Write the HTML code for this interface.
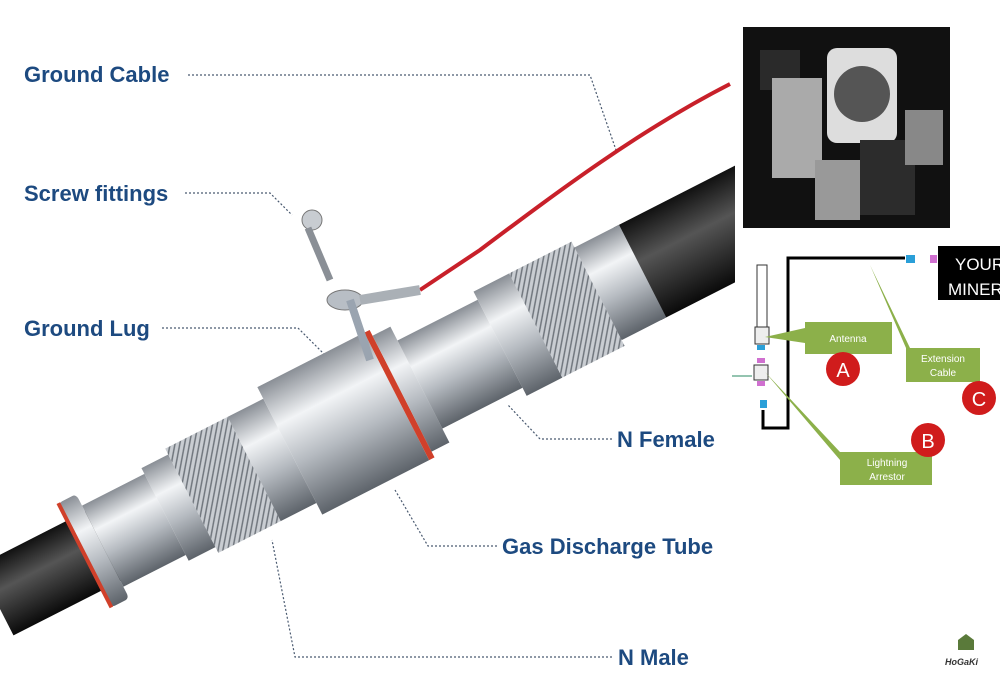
<!DOCTYPE html>
<html><head><meta charset="utf-8"><style>
html,body{margin:0;padding:0;background:#fff}
svg{display:block}
text{font-family:"Liberation Sans",sans-serif}
.lb{fill:#1d4a80;font-weight:bold;font-size:22px}
.dl{stroke:#4a5a70;stroke-width:1.2;stroke-dasharray:2 2;fill:none}
.gt{fill:#fff;font-size:10px;text-anchor:middle}
</style></head><body>
<svg width="1000" height="689" viewBox="0 0 1000 689">
<defs>
<linearGradient id="met" x1="0" y1="0" x2="0" y2="1">
<stop offset="0" stop-color="#8a8f96"/><stop offset="0.3" stop-color="#f2f4f6"/><stop offset="0.6" stop-color="#b5bac0"/><stop offset="1" stop-color="#5d636a"/></linearGradient>
<pattern id="knurl" width="6" height="6" patternUnits="userSpaceOnUse"><rect width="6" height="6" fill="#c9cdd2"/><path d="M0 6L6 0M-1 1L1 -1M5 7L7 5" stroke="#6f757c" stroke-width="1.3"/></pattern>
<linearGradient id="blk" x1="0" y1="0" x2="0" y2="1"><stop offset="0" stop-color="#111"/><stop offset="0.4" stop-color="#555"/><stop offset="1" stop-color="#0a0a0a"/></linearGradient>
<clipPath id="cl"><rect x="0" y="0" width="735" height="689"/></clipPath>
</defs>
<text class="lb" x="24" y="82">Ground Cable</text>
<path class="dl" d="M188 75H590L616 150"/>
<text class="lb" x="24" y="201">Screw fittings</text>
<path class="dl" d="M185 193H270L292 215"/>
<text class="lb" x="24" y="336">Ground Lug</text>
<path class="dl" d="M162 328H298L330 360"/>
<text class="lb" x="617" y="447">N Female</text>
<path class="dl" d="M612 439H540L508 405"/>
<text class="lb" x="502" y="554">Gas Discharge Tube</text>
<path class="dl" d="M497 546H428L395 490"/>
<text class="lb" x="618" y="665">N Male</text>
<path class="dl" d="M612 657H295L272 540"/>
<path d="M730 84C640 130 560 190 480 250L420 290" stroke="#c8202a" stroke-width="4" fill="none"/>
<g clip-path="url(#cl)">
<g transform="translate(370,410) rotate(-27) scale(1,1.3)">
<rect x="-420" y="-30" width="130" height="60" fill="url(#blk)"/>
<rect x="300" y="-40" width="160" height="80" fill="url(#blk)"/>
<rect x="-320" y="-45" width="20" height="90" rx="4" fill="url(#met)"/>
<rect x="-322" y="-45" width="4" height="90" fill="#d0402a"/>
<rect x="-300" y="-35" width="70" height="70" fill="url(#met)"/>
<rect x="-230" y="-40" width="30" height="80" fill="url(#met)"/>
<rect x="-200" y="-45" width="70" height="90" fill="url(#knurl)"/>
<rect x="-130" y="-45" width="40" height="90" fill="url(#met)"/>
<rect x="-90" y="-55" width="120" height="110" fill="url(#met)"/>
<rect x="30" y="-55" width="6" height="110" fill="#d0402a"/>
<rect x="36" y="-50" width="20" height="100" fill="url(#met)"/>
<rect x="56" y="-38" width="90" height="76" fill="url(#met)"/>
<rect x="146" y="-45" width="40" height="90" fill="url(#met)"/>
<rect x="186" y="-45" width="70" height="90" fill="url(#knurl)"/>
<rect x="256" y="-40" width="50" height="80" fill="url(#met)"/>
</g>
</g>
<circle cx="312" cy="220" r="10" fill="#c8ccd1" stroke="#777"/>
<path d="M308 228L330 280" stroke="#8a8f96" stroke-width="7"/>
<ellipse cx="345" cy="300" rx="18" ry="10" fill="#b8bec5" stroke="#777"/>
<path d="M350 300L370 360" stroke="#9aa4b0" stroke-width="8"/>
<path d="M360 300L420 290" stroke="#aab0b6" stroke-width="10"/>
<rect x="743" y="27" width="207" height="201" fill="#111"/>
<rect x="760" y="50" width="40" height="40" fill="#2a2a2a"/>
<rect x="772" y="78" width="50" height="100" fill="#aaa"/>
<rect x="827" y="48" width="70" height="95" rx="10" fill="#ddd"/>
<circle cx="862" cy="94" r="28" fill="#555"/>
<rect x="860" y="140" width="55" height="75" fill="#2c2c2c"/>
<rect x="815" y="160" width="45" height="60" fill="#999"/>
<rect x="905" y="110" width="38" height="55" fill="#888"/>
<rect x="757" y="265" width="10" height="65" fill="#fff" stroke="#333"/>
<rect x="755" y="327" width="14" height="17" fill="#eee" stroke="#333"/>
<rect x="757" y="345" width="8" height="5" fill="#2a9fd8"/>
<rect x="757" y="358" width="8" height="5" fill="#d070d0"/>
<rect x="754" y="365" width="14" height="15" fill="#eee" stroke="#333"/>
<rect x="757" y="381" width="8" height="5" fill="#d070d0"/>
<line x1="732" y1="376" x2="752" y2="376" stroke="#2a8a60"/>
<rect x="760" y="400" width="7" height="8" fill="#2a9fd8"/>
<path d="M763 410V428H788V258H905" stroke="#000" stroke-width="3" fill="none"/>
<rect x="906" y="255" width="9" height="8" fill="#2a9fd8"/>
<rect x="930" y="255" width="7" height="8" fill="#d070d0"/>
<rect x="938" y="246" width="62" height="54" fill="#000"/>
<text x="955" y="270" fill="#fff" font-size="17">YOUR</text>
<text x="948" y="295" fill="#fff" font-size="17">MINER</text>
<path d="M765 337L805 328V322H892V354H805V343Z" fill="#8cb04a"/>
<text class="gt" x="848" y="342">Antenna</text>
<path d="M870 265L910 348H980V382H906V348Z" fill="#8cb04a"/>
<text class="gt" x="943" y="362">Extension</text><text class="gt" x="943" y="376">Cable</text>
<path d="M765 372L840 452H932V485H840V460Z" fill="#8cb04a"/>
<text class="gt" x="887" y="466">Lightning</text><text class="gt" x="887" y="480">Arrestor</text>
<circle cx="843" cy="369" r="17" fill="#d01c1c"/><text x="843" y="377" fill="#fff" font-size="20" text-anchor="middle">A</text>
<circle cx="928" cy="440" r="17" fill="#d01c1c"/><text x="928" y="448" fill="#fff" font-size="20" text-anchor="middle">B</text>
<circle cx="979" cy="398" r="17" fill="#d01c1c"/><text x="979" y="406" fill="#fff" font-size="20" text-anchor="middle">C</text>
<text x="945" y="665" font-size="9" font-style="italic" font-weight="bold" fill="#333">HoGaKi</text>
<path d="M958 640l8 -6 8 6v10h-16z" fill="#5a7a3a"/>
</svg>
</body></html>
